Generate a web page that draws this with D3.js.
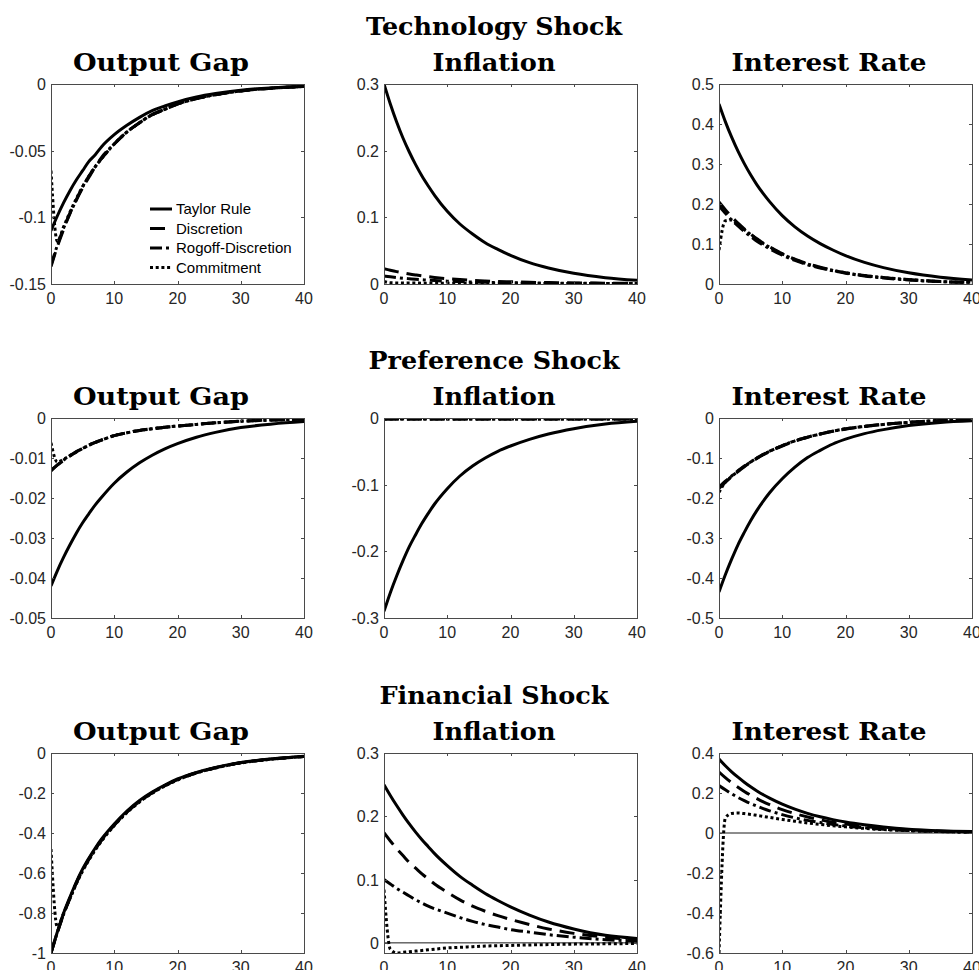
<!DOCTYPE html>
<html><head><meta charset="utf-8">
<script src="https://cdn.jsdelivr.net/npm/d3@7"></script>
<style>body{margin:0;background:#fff} svg{display:block}</style>
</head><body>
<svg id="chart" width="979" height="970"></svg>
<script>
// ---------------- DATA ----------------
const periods = [0,1,2,3,4,5,6,7,8,10,12,14,16,18,20,23,26,30,35,40];
const seriesNames = ["Taylor Rule","Discretion","Rogoff-Discretion","Commitment"];
const shockTitles = ["Technology Shock","Preference Shock","Financial Shock"];
const panelTitles = ["Output Gap","Inflation","Interest Rate"];
const xTicks = [0,10,20,30,40];
const xTickLabels = ["0","10","20","30","40"];

// Technology shock
const techGapTaylor  = [-0.110,-0.099,-0.089,-0.080,-0.072,-0.065,-0.058,-0.053,-0.047,-0.038,-0.031,-0.025,-0.020,-0.0165,-0.0134,-0.0098,-0.0072,-0.0046,-0.0028,-0.0017];
const techGapDisc    = [-0.137,-0.122,-0.109,-0.097,-0.087,-0.078,-0.070,-0.062,-0.056,-0.045,-0.036,-0.029,-0.023,-0.019,-0.015,-0.011,-0.008,-0.0052,-0.0031,-0.0019];
const techGapRogoff  = [-0.136,-0.121,-0.108,-0.097,-0.087,-0.077,-0.069,-0.062,-0.055,-0.045,-0.036,-0.029,-0.023,-0.019,-0.015,-0.011,-0.008,-0.0052,-0.0031,-0.0019];
const techGapCommit  = [-0.065,-0.118,-0.107,-0.096,-0.086,-0.077,-0.069,-0.062,-0.056,-0.045,-0.036,-0.029,-0.023,-0.019,-0.015,-0.011,-0.008,-0.0052,-0.0031,-0.0019];
const techGapLimits = [-0.15, 0];
const techGapTicks = [-0.15,-0.1,-0.05,0];
const techGapTickLabels = ["-0.15","-0.1","-0.05","0"];

const techInflTaylor = [0.300,0.270,0.243,0.219,0.198,0.179,0.162,0.147,0.133,0.109,0.090,0.075,0.062,0.052,0.043,0.032,0.024,0.016,0.0095,0.0055];
const techInflDisc   = [0.023,0.0207,0.0186,0.0168,0.0151,0.0136,0.0122,0.011,0.0099,0.008,0.0066,0.0055,0.0046,0.0039,0.0033,0.0026,0.0021,0.0016,0.0012,0.0009];
const techInflRogoff = [0.012,0.0108,0.0097,0.0087,0.0079,0.0071,0.0064,0.0057,0.0052,0.0043,0.0036,0.0030,0.0026,0.0023,0.0020,0.0017,0.0014,0.0011,0.0009,0.0007];
const techInflCommit = [0.004,0.0018,0.0016,0.0015,0.0014,0.0014,0.0013,0.0013,0.0012,0.0012,0.0011,0.0011,0.0010,0.0010,0.0010,0.0009,0.0009,0.0008,0.0008,0.0007];
const techInflLimits = [0, 0.3];
const techInflTicks = [0,0.1,0.2,0.3];
const techInflTickLabels = ["0","0.1","0.2","0.3"];

const techRateTaylor = [0.450,0.406,0.367,0.332,0.301,0.273,0.248,0.226,0.206,0.171,0.143,0.120,0.101,0.085,0.071,0.054,0.041,0.028,0.017,0.010];
const techRateDisc   = [0.205,0.186,0.168,0.152,0.138,0.125,0.113,0.102,0.093,0.076,0.062,0.051,0.042,0.034,0.028,0.021,0.016,0.011,0.006,0.004];
const techRateRogoff = [0.195,0.177,0.160,0.145,0.131,0.119,0.107,0.097,0.088,0.072,0.059,0.048,0.040,0.033,0.027,0.020,0.015,0.010,0.006,0.004];
const techRateCommit = [0.085,0.158,0.160,0.148,0.136,0.124,0.112,0.101,0.092,0.075,0.061,0.050,0.041,0.034,0.028,0.021,0.016,0.011,0.006,0.004];
const techRateLimits = [0, 0.5];
const techRateTicks = [0,0.1,0.2,0.3,0.4,0.5];
const techRateTickLabels = ["0","0.1","0.2","0.3","0.4","0.5"];

// Preference shock
const prefGapTaylor  = [-0.042,-0.0382,-0.0348,-0.0317,-0.0288,-0.0262,-0.0239,-0.0217,-0.0198,-0.0163,-0.0135,-0.0112,-0.0093,-0.0077,-0.0064,-0.0048,-0.0036,-0.0024,-0.0015,-0.0009];
const prefGapDisc    = [-0.0132,-0.0118,-0.0106,-0.0095,-0.0085,-0.0076,-0.0068,-0.0061,-0.0055,-0.0044,-0.0037,-0.0031,-0.0027,-0.0023,-0.0020,-0.0016,-0.0012,-0.0008,-0.0005,-0.0003];
const prefGapRogoff  = [-0.0131,-0.0117,-0.0105,-0.0094,-0.0084,-0.0076,-0.0068,-0.0061,-0.0055,-0.0044,-0.0037,-0.0031,-0.0027,-0.0023,-0.0020,-0.0016,-0.0012,-0.0008,-0.0005,-0.0003];
const prefGapCommit  = [-0.0062,-0.0110,-0.0103,-0.0094,-0.0085,-0.0076,-0.0068,-0.0061,-0.0055,-0.0044,-0.0037,-0.0031,-0.0027,-0.0023,-0.0020,-0.0016,-0.0012,-0.0008,-0.0005,-0.0003];
const prefGapLimits = [-0.05, 0];
const prefGapTicks = [-0.05,-0.04,-0.03,-0.02,-0.01,0];
const prefGapTickLabels = ["-0.05","-0.04","-0.03","-0.02","-0.01","0"];

const prefInflTaylor = [-0.290,-0.262,-0.237,-0.214,-0.193,-0.175,-0.158,-0.143,-0.129,-0.106,-0.087,-0.072,-0.060,-0.050,-0.042,-0.032,-0.024,-0.016,-0.009,-0.005];
const prefInflDisc   = [-0.0016,-0.0016,-0.0016,-0.0016,-0.0016,-0.0016,-0.0016,-0.0016,-0.0016,-0.0016,-0.0016,-0.0016,-0.0016,-0.0016,-0.0016,-0.0016,-0.0016,-0.0016,-0.0016,-0.0016];
const prefInflRogoff = [-0.0014,-0.0014,-0.0014,-0.0014,-0.0014,-0.0014,-0.0014,-0.0014,-0.0014,-0.0014,-0.0014,-0.0014,-0.0014,-0.0014,-0.0014,-0.0014,-0.0014,-0.0014,-0.0014,-0.0014];
const prefInflCommit = [-0.0010,-0.0015,-0.0015,-0.0015,-0.0015,-0.0015,-0.0015,-0.0015,-0.0015,-0.0015,-0.0015,-0.0015,-0.0015,-0.0015,-0.0015,-0.0015,-0.0015,-0.0015,-0.0015,-0.0015];
const prefInflLimits = [-0.3, 0];
const prefInflTicks = [-0.3,-0.2,-0.1,0];
const prefInflTickLabels = ["-0.3","-0.2","-0.1","0"];

const prefRateTaylor = [-0.435,-0.392,-0.353,-0.317,-0.286,-0.257,-0.231,-0.208,-0.187,-0.152,-0.123,-0.099,-0.081,-0.065,-0.053,-0.039,-0.029,-0.019,-0.011,-0.007];
const prefRateDisc   = [-0.176,-0.161,-0.147,-0.134,-0.122,-0.111,-0.101,-0.092,-0.084,-0.070,-0.058,-0.048,-0.040,-0.033,-0.028,-0.021,-0.016,-0.011,-0.007,-0.004];
const prefRateRogoff = [-0.173,-0.158,-0.145,-0.132,-0.120,-0.110,-0.100,-0.091,-0.083,-0.069,-0.057,-0.048,-0.040,-0.033,-0.027,-0.021,-0.016,-0.011,-0.006,-0.004];
const prefRateCommit = [-0.186,-0.160,-0.146,-0.133,-0.121,-0.110,-0.100,-0.091,-0.083,-0.069,-0.057,-0.048,-0.040,-0.033,-0.027,-0.021,-0.016,-0.011,-0.006,-0.004];
const prefRateLimits = [-0.5, 0];
const prefRateTicks = [-0.5,-0.4,-0.3,-0.2,-0.1,0];
const prefRateTickLabels = ["-0.5","-0.4","-0.3","-0.2","-0.1","0"];

// Financial shock
const finGapTaylor  = [-1.000,-0.895,-0.800,-0.720,-0.645,-0.580,-0.525,-0.475,-0.430,-0.355,-0.290,-0.237,-0.195,-0.160,-0.130,-0.097,-0.072,-0.048,-0.029,-0.016];
const finGapDisc    = [-1.000,-0.898,-0.805,-0.725,-0.650,-0.585,-0.530,-0.480,-0.435,-0.360,-0.295,-0.242,-0.199,-0.163,-0.133,-0.099,-0.074,-0.049,-0.030,-0.017];
const finGapRogoff  = [-1.000,-0.898,-0.806,-0.726,-0.651,-0.586,-0.531,-0.481,-0.436,-0.361,-0.296,-0.243,-0.199,-0.163,-0.133,-0.099,-0.074,-0.049,-0.030,-0.017];
const finGapCommit  = [-0.480,-0.870,-0.800,-0.728,-0.655,-0.590,-0.535,-0.485,-0.440,-0.363,-0.298,-0.245,-0.201,-0.165,-0.135,-0.100,-0.075,-0.050,-0.031,-0.018];
const finGapLimits = [-1, 0];
const finGapTicks = [-1,-0.8,-0.6,-0.4,-0.2,0];
const finGapTickLabels = ["-1","-0.8","-0.6","-0.4","-0.2","0"];

const finInflTaylor = [0.250,0.233,0.217,0.202,0.188,0.175,0.163,0.152,0.141,0.122,0.105,0.091,0.078,0.067,0.057,0.044,0.033,0.022,0.012,0.007];
const finInflDisc   = [0.174,0.161,0.149,0.138,0.127,0.118,0.109,0.101,0.093,0.080,0.068,0.058,0.050,0.043,0.037,0.029,0.022,0.015,0.009,0.005];
const finInflRogoff = [0.100,0.093,0.086,0.080,0.074,0.068,0.063,0.058,0.054,0.047,0.040,0.034,0.029,0.025,0.021,0.017,0.013,0.009,0.005,0.003];
const finInflCommit = [0.084,-0.010,-0.016,-0.015,-0.014,-0.013,-0.012,-0.011,-0.010,-0.008,-0.007,-0.006,-0.005,-0.0045,-0.004,-0.0033,-0.0027,-0.002,-0.0015,-0.001];
const finInflLimits = [-0.016, 0.3];
const finInflTicks = [0,0.1,0.2,0.3];
const finInflTickLabels = ["0","0.1","0.2","0.3"];

const finRateTaylor = [0.370,0.336,0.306,0.279,0.254,0.231,0.210,0.191,0.174,0.144,0.119,0.098,0.081,0.067,0.055,0.041,0.030,0.019,0.011,0.007];
const finRateDisc   = [0.305,0.277,0.252,0.229,0.208,0.189,0.172,0.156,0.142,0.117,0.097,0.080,0.066,0.054,0.045,0.033,0.024,0.016,0.009,0.006];
const finRateRogoff = [0.237,0.216,0.196,0.178,0.162,0.147,0.134,0.122,0.111,0.092,0.076,0.063,0.052,0.043,0.035,0.026,0.019,0.012,0.007,0.005];
const finRateCommit = [-0.600,0.075,0.098,0.100,0.097,0.093,0.088,0.083,0.078,0.068,0.059,0.050,0.043,0.036,0.031,0.023,0.017,0.012,0.007,0.004];
const finRateLimits = [-0.6, 0.4];
const finRateTicks = [-0.6,-0.4,-0.2,0,0.2,0.4];
const finRateTickLabels = ["-0.6","-0.4","-0.2","0","0.2","0.4"];

// ---------------- LAYOUT / STYLE ----------------
const layout = {colLeft:[51,384,719], rowTop:[84,418,753], w:253, h:200, titleShift:-16.5,
  titleGap:13, superGap:49};
const titleWidths = {"Output Gap":176,"Inflation":123,"Interest Rate":195,
  "Technology Shock":256,"Preference Shock":251,"Financial Shock":229};
const seriesStyles = [
  {dash:null},
  {dash:"15,8"},
  {dash:"12,4,3,4"},
  {dash:"3,2.7"}
];
const lineWidth = 3;
const axisColor = "#4a4a4a";
const textColor = "#262626";

const rows = [
  {title: shockTitles[0], panels:[
    {limits:techGapLimits, ticks:techGapTicks, labels:techGapTickLabels, series:[techGapTaylor,techGapDisc,techGapRogoff,techGapCommit], legend:true},
    {limits:techInflLimits, ticks:techInflTicks, labels:techInflTickLabels, series:[techInflTaylor,techInflDisc,techInflRogoff,techInflCommit]},
    {limits:techRateLimits, ticks:techRateTicks, labels:techRateTickLabels, series:[techRateTaylor,techRateDisc,techRateRogoff,techRateCommit]}
  ]},
  {title: shockTitles[1], panels:[
    {limits:prefGapLimits, ticks:prefGapTicks, labels:prefGapTickLabels, series:[prefGapTaylor,prefGapDisc,prefGapRogoff,prefGapCommit]},
    {limits:prefInflLimits, ticks:prefInflTicks, labels:prefInflTickLabels, series:[prefInflTaylor,prefInflDisc,prefInflRogoff,prefInflCommit]},
    {limits:prefRateLimits, ticks:prefRateTicks, labels:prefRateTickLabels, series:[prefRateTaylor,prefRateDisc,prefRateRogoff,prefRateCommit]}
  ]},
  {title: shockTitles[2], panels:[
    {limits:finGapLimits, ticks:finGapTicks, labels:finGapTickLabels, series:[finGapTaylor,finGapDisc,finGapRogoff,finGapCommit]},
    {limits:finInflLimits, ticks:finInflTicks, labels:finInflTickLabels, series:[finInflTaylor,finInflDisc,finInflRogoff,finInflCommit], zeroLine:true},
    {limits:finRateLimits, ticks:finRateTicks, labels:finRateTickLabels, series:[finRateTaylor,finRateDisc,finRateRogoff,finRateCommit], zeroLine:true}
  ]}
];

const svg = d3.select("#chart");
const defs = svg.append("defs");

function fitTitle(sel, text){
  sel.text(text)
    .attr("font-family","'DejaVu Serif', serif")
    .attr("font-weight","bold")
    .attr("font-size",24)
    .attr("fill","#000")
    .attr("text-anchor","middle")
    .attr("textLength", titleWidths[text])
    .attr("lengthAdjust","spacingAndGlyphs");
}

rows.forEach((row, ri) => {
  const top = layout.rowTop[ri];
  const midCx = layout.colLeft[1] + layout.w/2 + layout.titleShift;
  fitTitle(svg.append("text").attr("x", midCx).attr("y", top - layout.superGap), row.title);

  row.panels.forEach((p, ci) => {
    const left = layout.colLeft[ci];
    const x = d3.scaleLinear().domain([0,40]).range([left, left + layout.w]);
    const y = d3.scaleLinear().domain(p.limits).range([top + layout.h, top]);
    const g = svg.append("g");
    const clipId = `clip-${ri}-${ci}`;
    defs.append("clipPath").attr("id", clipId).append("rect")
      .attr("x", left).attr("y", top).attr("width", layout.w).attr("height", layout.h);

    fitTitle(g.append("text").attr("x", left + layout.w/2 + layout.titleShift).attr("y", top - layout.titleGap), panelTitles[ci]);

    const plot = g.append("g").attr("clip-path", `url(#${clipId})`);
    if (p.zeroLine) {
      plot.append("line").attr("x1", x(0)).attr("x2", x(40)).attr("y1", y(0)).attr("y2", y(0))
        .attr("stroke", "#1a1a1a").attr("stroke-width", 1);
    }
    const line = d3.line().x((d,i) => x(periods[i])).y(d => y(d)).curve(d3.curveMonotoneX);
    p.series.forEach((vals, si) => {
      plot.append("path").datum(vals).attr("d", line)
        .attr("fill","none").attr("stroke","#000").attr("stroke-width", lineWidth)
        .attr("stroke-dasharray", seriesStyles[si].dash)
        .attr("stroke-linejoin","round");
    });

    const ax = g.append("g").attr("stroke", axisColor).attr("stroke-width", 1).attr("fill","none");
    ax.append("rect").attr("x", left + 0.5).attr("y", top + 0.5).attr("width", layout.w).attr("height", layout.h)
      .attr("shape-rendering","crispEdges");
    const tl = 3;
    xTicks.forEach(t => {
      const xx = Math.round(x(t)) + 0.5;
      ax.append("line").attr("x1", xx).attr("x2", xx).attr("y1", top + layout.h).attr("y2", top + layout.h - tl);
      ax.append("line").attr("x1", xx).attr("x2", xx).attr("y1", top).attr("y2", top + tl);
    });
    p.ticks.forEach(t => {
      const yy = Math.round(y(t)) + 0.5;
      ax.append("line").attr("x1", left).attr("x2", left + tl).attr("y1", yy).attr("y2", yy);
      ax.append("line").attr("x1", left + layout.w).attr("x2", left + layout.w - tl).attr("y1", yy).attr("y2", yy);
    });

    const lab = g.append("g").attr("font-family","'Liberation Sans', Arial, sans-serif")
      .attr("font-size", 16).attr("fill", textColor);
    xTicks.forEach((t, i) => {
      lab.append("text").attr("x", x(t)).attr("y", top + layout.h + 19.5)
        .attr("text-anchor","middle").text(xTickLabels[i]);
    });
    p.ticks.forEach((t, i) => {
      lab.append("text").attr("x", left - 5).attr("y", y(t)).attr("dy","0.38em")
        .attr("text-anchor","end").text(p.labels[i]);
    });

    if (p.legend) {
      const lg = g.append("g");
      seriesNames.forEach((name, si) => {
        const ly = 209 + si * 19.5;
        lg.append("line").attr("x1", left + 99).attr("x2", left + 121).attr("y1", ly).attr("y2", ly)
          .attr("stroke","#000").attr("stroke-width", lineWidth)
          .attr("stroke-dasharray", seriesStyles[si].dash);
        lg.append("text").attr("x", left + 125).attr("y", ly).attr("dy","0.36em")
          .attr("font-family","'Liberation Sans', Arial, sans-serif").attr("font-size", 15)
          .attr("fill","#000").text(name);
      });
    }
  });
});
</script>
</body></html>
